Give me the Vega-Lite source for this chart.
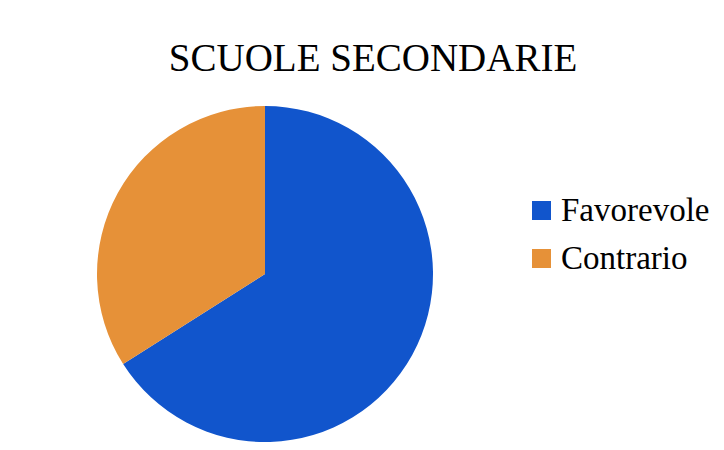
{
  "$schema": "https://vega.github.io/schema/vega-lite/v6.json",
  "autosize": {"type": "none"},
  "width": 336,
  "height": 336,
  "padding": {"left": 97, "top": 106, "right": 291, "bottom": 8},
  "background": "white",
  "title": {
    "text": "SCUOLE SECONDARIE",
    "font": "Liberation Serif",
    "fontSize": 39,
    "fontWeight": "normal",
    "color": "#000000",
    "anchor": "middle",
    "dx": 108,
    "offset": 27
  },
  "data": {
    "values": [
      {"risposta": "Favorevole", "valore": 66},
      {"risposta": "Contrario", "valore": 34}
    ]
  },
  "mark": {"type": "arc", "outerRadius": 168, "stroke": null},
  "encoding": {
    "theta": {"field": "valore", "type": "quantitative", "stack": true},
    "order": {"field": "valore", "type": "quantitative", "sort": "descending"},
    "color": {
      "field": "risposta",
      "type": "nominal",
      "scale": {"domain": ["Favorevole", "Contrario"], "range": ["#1155CC", "#E69138"]},
      "legend": {
        "title": null,
        "orient": "none",
        "legendX": 428,
        "legendY": 88,
        "symbolType": "square",
        "symbolSize": 361,
        "symbolStrokeWidth": 0,
        "labelFont": "Liberation Serif",
        "labelFontSize": 33,
        "labelColor": "#000000",
        "labelLimit": 300,
        "labelOffset": 3,
        "rowPadding": 14
      }
    }
  },
  "config": {"view": {"stroke": null}}
}
